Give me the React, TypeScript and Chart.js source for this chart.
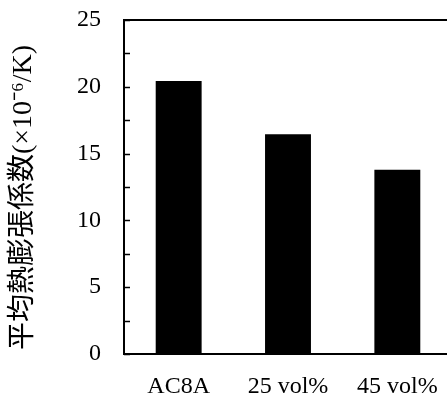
import React, { useEffect, useRef } from "react";
import { Chart, registerables } from "chart.js";

Chart.register(...registerables);

const categories = ["AC8A", "25 vol%", "45 vol%"];
const values = [20.43, 16.45, 13.8];
const yMin = 0;
const yMax = 25;
const yStep = 2.5;
const yTitle = "平均熱膨張係数(×10⁻⁶/K)   ";

const FONT = "'Liberation Serif', 'Times New Roman', 'Noto Sans CJK JP', serif";

const frame = {
  id: "frame",
  afterDatasetsDraw(chart: any) {
    const { ctx, chartArea } = chart;
    const y = chart.scales.y;
    ctx.save();
    ctx.strokeStyle = "#000";
    ctx.lineWidth = 1.5;
    y.ticks.forEach((t: any) => {
      const py = Math.round(y.getPixelForValue(t.value)) + 0.5;
      ctx.beginPath();
      ctx.moveTo(chartArea.left, py);
      ctx.lineTo(chartArea.left + 6, py);
      ctx.stroke();
    });
    ctx.lineWidth = 2;
    ctx.beginPath();
    ctx.moveTo(chartArea.left - 1, chartArea.top);
    ctx.lineTo(chartArea.right, chartArea.top);
    ctx.stroke();
    ctx.restore();
  },
};

export default function App() {
  const ref = useRef<HTMLCanvasElement>(null);
  useEffect(() => {
    if (!ref.current) return;
    const chart = new Chart(ref.current, {
      type: "bar",
      data: {
        labels: categories,
        datasets: [
          {
            data: values,
            backgroundColor: "#000",
            borderWidth: 0,
            barPercentage: 0.42,
            categoryPercentage: 1,
          },
        ],
      },
      options: {
        responsive: false,
        animation: false,
        events: [],
        layout: { padding: { top: 20, right: 8, left: 0, bottom: 0 } },
        plugins: { legend: { display: false }, tooltip: { enabled: false } },
        scales: {
          x: {
            afterFit: (s: any) => {
              s.height = 45;
            },
            grid: { display: false, drawTicks: false },
            border: { display: true, color: "#000", width: 2 },
            ticks: {
              color: "#000",
              padding: 18,
              font: { family: FONT, size: 24 },
              maxRotation: 0,
            },
          },
          y: {
            min: yMin,
            max: yMax,
            afterFit: (s: any) => {
              s.width = 124;
              s.paddingTop = 0;
              s.paddingBottom = 0;
            },
            grid: { display: false, drawTicks: false },
            border: { display: true, color: "#000", width: 2 },
            ticks: {
              stepSize: yStep,
              color: "#000",
              padding: 23,
              font: { family: FONT, size: 24 },
              callback: (v: any) => (Number(v) % 5 === 0 ? String(v) : ""),
            },
            title: {
              display: true,
              text: yTitle,
              color: "#000",
              font: { family: FONT, size: 28 },
              padding: { top: 7, bottom: 0 },
            },
          },
        },
      },
      plugins: [frame],
    });
    return () => chart.destroy();
  }, []);
  return (
    <div
      style={{
        position: "fixed",
        left: 0,
        top: 0,
        width: 447,
        height: 399,
        overflow: "hidden",
        background: "#fff",
      }}
    >
      <canvas
        ref={ref}
        width={460}
        height={399}
        style={{ display: "block", width: 460, height: 399 }}
      />
    </div>
  );
}
